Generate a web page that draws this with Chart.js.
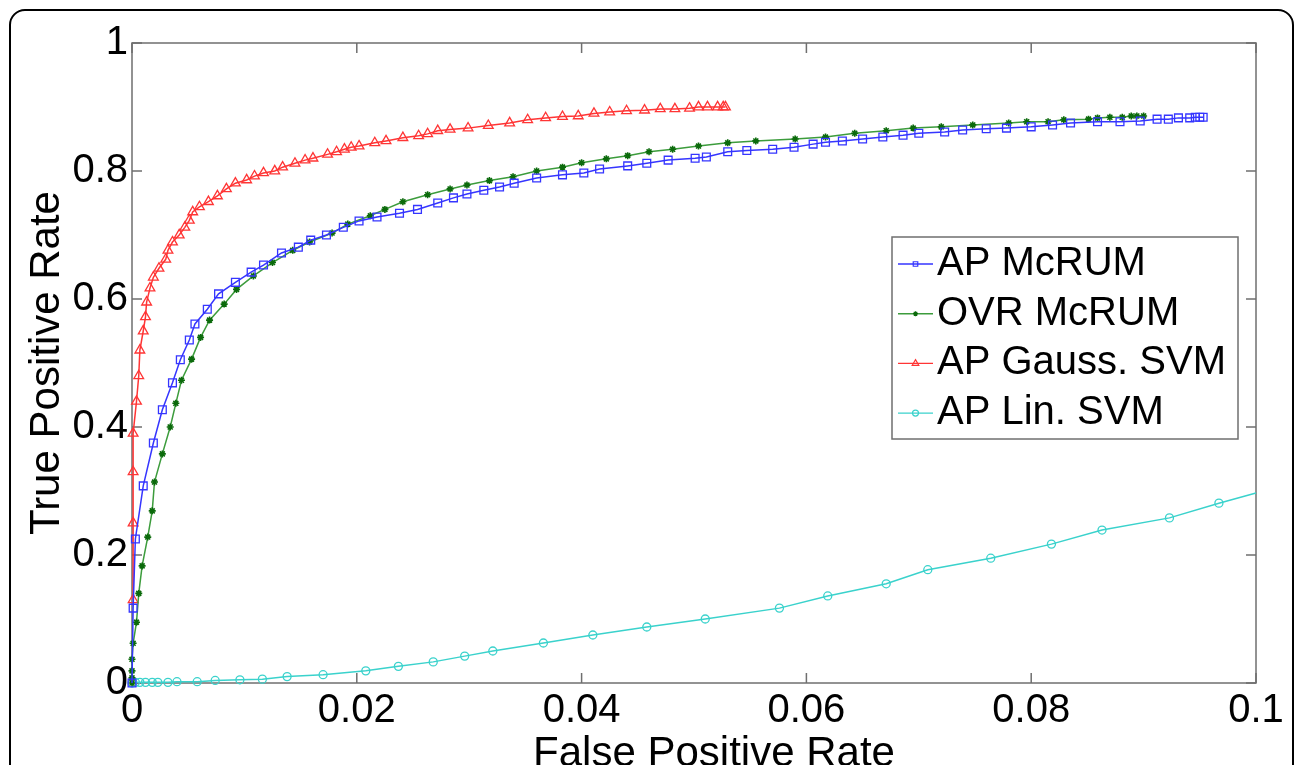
<!DOCTYPE html>
<html>
<head>
<meta charset="utf-8">
<title>ROC curves</title>
<script src="https://cdn.jsdelivr.net/npm/chart.js@4/dist/chart.umd.min.js"></script>
<style>
  html, body { margin: 0; padding: 0; background: #fff; overflow: hidden; }
  #wrap { position: relative; width: 1295px; height: 765px; }
  #frame {
    position: absolute; left: 9px; top: 9px; width: 1285px; height: 800px;
    border: 2px solid #000; border-radius: 16px; box-sizing: border-box;
  }
  canvas { position: absolute; left: 0; top: 0; }
</style>
</head>
<body>
<div id="wrap">
  <div id="frame"></div>
  <canvas id="roc" width="1295" height="765"></canvas>
</div>
<script>
// values (x = false positive rate, y = true positive rate)
const apMcrumFpr = [0, 0.0001, 0.0003, 0.001, 0.0019, 0.0027, 0.0036, 0.0043, 0.0051, 0.0056, 0.0067, 0.0077,
  0.0092, 0.0106, 0.0117, 0.0133, 0.0148, 0.0159, 0.0173, 0.0188, 0.0202, 0.0218, 0.0238, 0.0254, 0.0272,
  0.0286, 0.0298, 0.0313, 0.0327, 0.034, 0.036, 0.0383, 0.0402, 0.0416, 0.0441, 0.0458, 0.0477, 0.0501,
  0.0511, 0.053, 0.0547, 0.057, 0.0589, 0.0606, 0.0617, 0.0632, 0.065, 0.0668, 0.0686, 0.07, 0.0723,
  0.0739, 0.076, 0.0778, 0.08, 0.0819, 0.0835, 0.0859, 0.0879, 0.0897, 0.0912, 0.0922, 0.0931, 0.0941,
  0.0946, 0.095, 0.0953];
const apMcrumTpr = [0, 0.117, 0.225, 0.308, 0.375, 0.427, 0.469, 0.505, 0.536, 0.561, 0.584, 0.608,
  0.626, 0.642, 0.653, 0.672, 0.681, 0.692, 0.700, 0.712, 0.722, 0.728, 0.734, 0.740, 0.750,
  0.758, 0.764, 0.770, 0.775, 0.781, 0.789, 0.794, 0.797, 0.803, 0.808, 0.812, 0.817, 0.820,
  0.822, 0.830, 0.832, 0.834, 0.837, 0.842, 0.845, 0.847, 0.850, 0.853, 0.856, 0.859, 0.861,
  0.864, 0.866, 0.867, 0.869, 0.872, 0.875, 0.877, 0.877, 0.878, 0.881, 0.881, 0.883, 0.883,
  0.884, 0.884, 0.884];

const ovrMcrumFpr = [0, 0, 0, 0, 0.0001, 0.0004, 0.0006, 0.0009, 0.0014, 0.0018, 0.002, 0.0027, 0.0034,
  0.0039, 0.0044, 0.0053, 0.0061, 0.0069, 0.0082, 0.0093, 0.0108, 0.0125, 0.0143, 0.0158, 0.0178,
  0.0192, 0.0212, 0.0225, 0.0241, 0.0263, 0.0283, 0.0298, 0.0318, 0.0339, 0.036, 0.0383, 0.04, 0.0422,
  0.0441, 0.046, 0.0481, 0.0504, 0.053, 0.0555, 0.059, 0.0617, 0.0643, 0.0671, 0.0695, 0.072, 0.0748,
  0.078, 0.0796, 0.0815, 0.0829, 0.0851, 0.0859, 0.087, 0.0881, 0.0889, 0.0894, 0.09];
const ovrMcrumTpr = [0, 0.008, 0.019, 0.037, 0.062, 0.095, 0.14, 0.183, 0.228, 0.269, 0.314, 0.358, 0.40,
  0.437, 0.473, 0.506, 0.54, 0.567, 0.592, 0.615, 0.636, 0.657, 0.676, 0.689, 0.703,
  0.717, 0.73, 0.74, 0.752, 0.763, 0.772, 0.778, 0.785, 0.791, 0.80, 0.806, 0.813, 0.819,
  0.824, 0.83, 0.834, 0.839, 0.844, 0.847, 0.85, 0.853, 0.859, 0.863, 0.867, 0.869, 0.872,
  0.875, 0.877, 0.877, 0.88, 0.881, 0.883, 0.884, 0.884, 0.886, 0.886, 0.886];

const gaussSvmFpr = [0.0001, 0.0001, 0.0001, 0.0001, 0.0004, 0.0006, 0.0007, 0.001, 0.0012, 0.0013, 0.0016,
  0.0019, 0.0024, 0.003, 0.0032, 0.0036, 0.0042, 0.0047, 0.0051, 0.0054, 0.006, 0.0068, 0.0076, 0.0084,
  0.0092, 0.0102, 0.0109, 0.0117, 0.0127, 0.0134, 0.0145, 0.0154, 0.0161, 0.0174, 0.0182, 0.0189,
  0.0195, 0.0202, 0.0216, 0.0226, 0.0241, 0.0255, 0.0263, 0.0272, 0.0283, 0.0299, 0.0317, 0.0336,
  0.0352, 0.0368, 0.0383, 0.0397, 0.0411, 0.0425, 0.044, 0.0456, 0.047, 0.0483, 0.0496, 0.0504,
  0.0512, 0.0521, 0.0526, 0.0528];
const gaussSvmTpr = [0.13, 0.25, 0.33, 0.39, 0.44, 0.48, 0.52, 0.55, 0.572, 0.595, 0.617,
  0.634, 0.648, 0.662, 0.676, 0.689, 0.70, 0.712, 0.723, 0.736, 0.744, 0.752, 0.761, 0.772,
  0.781, 0.786, 0.792, 0.797, 0.80, 0.806, 0.812, 0.817, 0.82, 0.826, 0.83, 0.834,
  0.837, 0.839, 0.844, 0.847, 0.852, 0.855, 0.858, 0.863, 0.865, 0.867, 0.871, 0.875,
  0.88, 0.883, 0.885, 0.886, 0.89, 0.892, 0.894, 0.895, 0.897, 0.897, 0.898, 0.90,
  0.90, 0.90, 0.90, 0.90];

const linSvmFpr = [0, 0.0003, 0.0007, 0.0012, 0.0018, 0.0023, 0.0032, 0.004, 0.0058, 0.0074, 0.0096,
  0.0116, 0.0138, 0.017, 0.0208, 0.0237, 0.0268, 0.0296, 0.0321, 0.0366, 0.041, 0.0458, 0.051,
  0.0576, 0.0619, 0.0671, 0.0708, 0.0764, 0.0818, 0.0863, 0.0923, 0.0967, 0.1];
const linSvmTpr = [0, 0.001, 0.001, 0.001, 0.001, 0.001, 0.001, 0.002, 0.002, 0.004, 0.005,
  0.006, 0.01, 0.013, 0.019, 0.026, 0.033, 0.042, 0.05, 0.0625, 0.075, 0.0875, 0.10,
  0.117, 0.136, 0.155, 0.177, 0.195, 0.217, 0.239, 0.258, 0.281, 0.297];

const seriesNames = ['AP McRUM', 'OVR McRUM', 'AP Gauss. SVM', 'AP Lin. SVM'];
const xTitle = 'False Positive Rate';
const yTitle = 'True Positive Rate';

const FONT = "'Liberation Sans', Arial, Helvetica, sans-serif";

function toPoints(xs, ys) {
  return xs.map((x, i) => ({ x: x, y: ys[i] }));
}

function fmt(v) {
  return String(parseFloat(Number(v).toFixed(2)));
}

const clear = 'rgba(0,0,0,0)';

const datasets = [
  {
    label: seriesNames[0],
    data: toPoints(apMcrumFpr, apMcrumTpr),
    borderColor: '#3535ff', backgroundColor: clear,
    pointStyle: 'rect', pointRadius: 5.5, pointBorderColor: '#3535ff', pointBorderWidth: 1.3,
    legendRadius: 3.2
  },
  {
    label: seriesNames[1],
    data: toPoints(ovrMcrumFpr, ovrMcrumTpr),
    borderColor: '#3c9c3c', backgroundColor: clear,
    pointStyle: 'star', pointRadius: 3.5, pointBorderColor: '#0b6a0b', pointBorderWidth: 1.6,
    legendRadius: 2.5
  },
  {
    label: seriesNames[2],
    data: toPoints(gaussSvmFpr, gaussSvmTpr),
    borderColor: '#ff3535', backgroundColor: clear,
    pointStyle: 'triangle', pointRadius: 5.6, pointBorderColor: '#ff3535', pointBorderWidth: 1.3,
    legendRadius: 3.8
  },
  {
    label: seriesNames[3],
    data: toPoints(linSvmFpr, linSvmTpr),
    borderColor: '#3ad2cc', backgroundColor: clear,
    pointStyle: 'circle', pointBorderColor: '#3ad2cc', pointBorderWidth: 1.3,
    pointRadius: ctx => (ctx.dataIndex === linSvmFpr.length - 1 ? 0 : 4),
    legendRadius: 3
  }
];
datasets.forEach(d => {
  d.showLine = true;
  d.borderWidth = 1.5;
  d.tension = 0;
  d.clip = false;
});

// MATLAB style box with inward ticks on all four sides, plus the x label
const axisBox = {
  id: 'axisBox',
  beforeDatasetsDraw(chart) {
    const { ctx, chartArea: a, scales } = chart;
    const len = 10;
    ctx.save();
    ctx.strokeStyle = '#6f6f6f';
    ctx.lineWidth = 1.5;
    ctx.strokeRect(a.left, a.top, a.right - a.left, a.bottom - a.top);
    ctx.beginPath();
    scales.x.ticks.forEach(t => {
      const px = scales.x.getPixelForValue(t.value);
      ctx.moveTo(px, a.bottom); ctx.lineTo(px, a.bottom - len);
      ctx.moveTo(px, a.top); ctx.lineTo(px, a.top + len);
    });
    scales.y.ticks.forEach(t => {
      const py = scales.y.getPixelForValue(t.value);
      ctx.moveTo(a.left, py); ctx.lineTo(a.left + len, py);
      ctx.moveTo(a.right, py); ctx.lineTo(a.right - len, py);
    });
    ctx.stroke();

    ctx.fillStyle = '#000';
    ctx.font = '42px ' + FONT;
    ctx.textAlign = 'center';
    ctx.textBaseline = 'middle';
    ctx.fillText(xTitle, (a.left + a.right) / 2 + 20, 754);
    ctx.restore();
  }
};

// legend box inside the axes, drawn from the datasets
const boxLegend = {
  id: 'boxLegend',
  afterDraw(chart) {
    const { ctx } = chart;
    const left = 892, top = 237, width = 346, height = 202;
    const rowH = 49.7;
    ctx.save();
    ctx.fillStyle = '#fff';
    ctx.fillRect(left, top, width, height);
    ctx.strokeStyle = '#6f6f6f';
    ctx.lineWidth = 1.5;
    ctx.strokeRect(left, top, width, height);
    ctx.font = '40px ' + FONT;
    ctx.textBaseline = 'middle';
    ctx.textAlign = 'left';
    chart.data.datasets.forEach((d, i) => {
      const y = top + 27 + i * rowH;
      ctx.strokeStyle = d.borderColor;
      ctx.lineWidth = 1.4;
      ctx.beginPath();
      ctx.moveTo(left + 6, y);
      ctx.lineTo(left + 41, y);
      ctx.stroke();
      ctx.strokeStyle = d.pointBorderColor;
      ctx.fillStyle = clear;
      ctx.lineWidth = 1.2;
      Chart.helpers.drawPoint(ctx, { pointStyle: d.pointStyle, rotation: 0, radius: d.legendRadius, borderWidth: 1.2 }, left + 23.5, y);
      ctx.fillStyle = '#000';
      ctx.fillText(d.label, left + 45, y);
    });
    ctx.restore();
  }
};

new Chart(document.getElementById('roc').getContext('2d'), {
  type: 'scatter',
  data: { datasets: datasets },
  options: {
    responsive: false,
    animation: false,
    events: [],
    layout: { padding: { left: 10, top: 43, right: 39, bottom: 0 } },
    plugins: { legend: { display: false }, tooltip: { enabled: false } },
    scales: {
      x: {
        type: 'linear', min: 0, max: 0.1,
        afterFit(s) { s.height = 82; },
        grid: { display: false, drawTicks: false },
        border: { display: false },
        ticks: {
          stepSize: 0.02, autoSkip: false, maxRotation: 0, padding: 4, color: '#000',
          font: { family: FONT, size: 40 }, callback: v => fmt(v)
        },
        title: { display: false, text: xTitle }
      },
      y: {
        type: 'linear', min: 0, max: 1,
        afterFit(s) { s.width = 122; },
        grid: { display: false, drawTicks: false },
        border: { display: false },
        ticks: {
          stepSize: 0.2, autoSkip: false, padding: 4, color: '#000',
          font: { family: FONT, size: 40 }, callback: v => fmt(v)
        },
        title: {
          display: true, text: yTitle, color: '#000', padding: { top: 16, bottom: 0 },
          font: { family: FONT, size: 42, lineHeight: 1 }
        }
      }
    }
  },
  plugins: [axisBox, boxLegend]
});
</script>
</body>
</html>
